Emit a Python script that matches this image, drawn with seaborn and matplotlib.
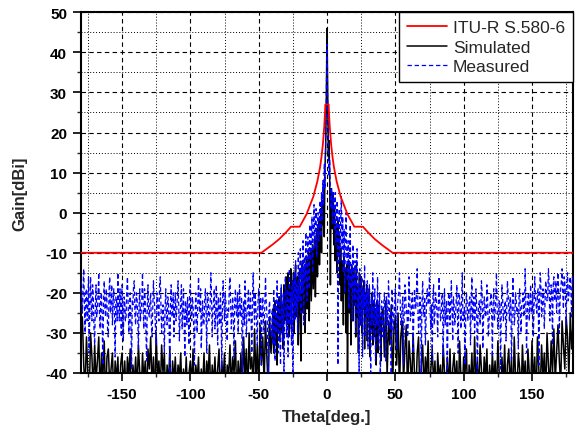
import numpy as np
import pandas as pd
import matplotlib
matplotlib.use("Agg")
import matplotlib.pyplot as plt
from matplotlib.ticker import MultipleLocator
import seaborn as sns

# ---------------- data ----------------
# ITU-R S.580-6 envelope (break points)
itu_theta = [-180, -48, -40, -35, -30, -26.3, -20, -15, -10, -7, -5, -4, -3, -2, -1.5, -1.2,
             1.2, 1.5, 2, 3, 4, 5, 7, 10, 15, 20, 26.3, 30, 35, 40, 48, 180]
itu_gain = [-10, -10, -8.0, -6.6, -4.9, -3.5, -3.5, -0.4, 4.0, 7.9, 11.5, 14.0, 17.1, 21.5, 24.6, 27.0,
            27.0, 24.6, 21.5, 17.1, 14.0, 11.5, 7.9, 4.0, -0.4, -3.5, -3.5, -4.9, -6.6, -8.0, -10, -10]

# sampling of the simulated pattern
sim_far_step, sim_near_step = 1.0, 0.5
# sampling of the measured pattern
meas_step = 0.5

# Simulated, -180..-41 deg (1 deg step)
sim_far_left = [
    -29, -26, -38, -44, -31, -40, -47, -30, -36, -45,
    -33, -42, -37, -31, -46, -35, -41, -32, -48, -36,
    -34, -43, -39, -35, -47, -37, -42, -36, -49, -38,
    -35, -44, -37, -46, -36, -41, -34, -48, -38, -43,
    -36, -45, -33, -40, -47, -35, -42, -37, -46, -34,
    -39, -31, -44, -36, -48, -30, -41, -37, -45, -33,
    -40, -35, -47, -38, -43, -34, -49, -37, -42, -36,
    -45, -38, -41, -35, -48, -39, -44, -36, -46, -40,
    -37, -43, -34, -47, -38, -42, -36, -49, -39, -44,
    -35, -46, -37, -41, -33, -47, -38, -43, -36, -45,
    -39, -34, -48, -37, -42, -35, -46, -38, -41, -33,
    -44, -36, -40, -32, -47, -37, -43, -35, -45, -31,
    -41, -34, -46, -30, -39, -36, -44, -29, -42, -33,
    -45, -28, -38, -31, -43, -27, -36, -44, -26, -35,
]
# Simulated, -40..40 deg (0.5 deg step)
sim_near = [
    -30, -24, -35, -27, -22, -33, -26, -38, -23, -29,
    -21, -32, -25, -19, -30, -23, -34, -18, -27, -22,
    -16, -28, -20, -15, -31, -19, -25, -14, -29, -17,
    -22, -15, -30, -18, -13, -26, -20, -16, -33, -19,
    -14, -28, -37, -17, -12, -25, -19, -13, -30, -16,
    -11, -24, -18, -10, -27, -14, -9, -22, -15, -8,
    -19, -12, -6, -21, -9, -4, -16, -7, -2, -13,
    -5, 1, -10, 3, -3, 7, -6, 11, 16, 28,
    46, 30, 14, 18, 8, -18, 6, 2, -4, 5,
    -8, 1, -12, -3, -6, -15, -2, -10, -5, -18,
    -9, -22, -12, -16, -28, -11, -20, -14, -30, -13,
    -42, -19, -12, -25, -15, -33, -13, -21, -27, -14,
    -23, -16, -31, -13, -26, -18, -35, -15, -22, -28,
    -16, -30, -19, -24, -17, -34, -20, -26, -18, -32,
    -21, -27, -19, -36, -23, -29, -20, -33, -25, -22,
    -31, -24, -38, -22, -28, -35, -23, -30, -26, -37,
    -25,
]
# Simulated, 41..180 deg (1 deg step)
sim_far_right = [
    -24, -36, -22, -41, -27, -33, -23, -44, -29, -26,
    -38, -25, -45, -31, -27, -42, -34, -28, -47, -32,
    -37, -44, -30, -40, -46, -35, -31, -48, -38, -33,
    -45, -36, -41, -32, -47, -39, -34, -43, -37, -49,
    -35, -42, -38, -46, -33, -40, -48, -36, -44, -34,
    -47, -39, -35, -43, -37, -49, -32, -41, -45, -36,
    -40, -34, -48, -38, -43, -35, -46, -31, -42, -37,
    -45, -33, -39, -47, -36, -41, -34, -49, -38, -44,
    -35, -42, -37, -46, -32, -40, -48, -36, -43, -33,
    -47, -38, -34, -44, -36, -49, -31, -41, -45, -35,
    -39, -46, -33, -42, -37, -48, -34, -40, -44, -32,
    -43, -36, -47, -31, -39, -45, -33, -41, -35, -46,
    -30, -38, -44, -32, -40, -29, -42, -35, -28, -37,
    -43, -27, -33, -39, -26, -31, -41, -25, -34, -28,
]

# Measured, -180..-40.5 deg (0.5 deg step)
meas_far_left = [
    -17, -21, -25, -19, -14, -23, -30, -20, -19, -27, -22, -16, -35, -24, -16, -22, -27, -18, -21, -29,
    -33, -23, -18, -26, -24, -20, -15, -25, -29, -21, -20, -28, -38, -22, -17, -24, -26, -19, -22, -30,
    -31, -20, -16, -25, -23, -18, -28, -22, -19, -26, -36, -21, -21, -27, -15, -23, -27, -19, -24, -31,
    -18, -24, -32, -21, -22, -27, -26, -19, -16, -23, -30, -25, -20, -28, -39, -22, -23, -18, -17, -26,
    -28, -20, -21, -26, -34, -23, -19, -27, -25, -21, -15, -24, -29, -19, -22, -30, -37, -23, -18, -25,
    -26, -22, -20, -28, -31, -24, -17, -21, -24, -29, -33, -20, -21, -25, -27, -18, -16, -23, -30, -26,
    -23, -27, -35, -24, -19, -25, -28, -21, -22, -29, -40, -23, -18, -26, -26, -20, -31, -24, -20, -27,
    -25, -21, -17, -23, -32, -26, -22, -18, -29, -24, -19, -27, -36, -22, -24, -28, -21, -25, -33, -20,
    -18, -24, -27, -21, -23, -29, -38, -25, -20, -26, -30, -22, -16, -23, -25, -19, -34, -27, -22, -28,
    -28, -22, -19, -25, -35, -20, -21, -27, -26, -23, -15, -21, -31, -24, -23, -19, -29, -26, -18, -24,
    -33, -21, -24, -28, -20, -25, -39, -23, -17, -22, -27, -20, -22, -29, -32, -24, -25, -19, -16, -23,
    -29, -25, -21, -27, -36, -22, -19, -24, -26, -20, -30, -23, -18, -26, -24, -21, -41, -25, -22, -28,
    -17, -22, -31, -25, -23, -19, -27, -24, -20, -28, -35, -21, -15, -23, -28, -20, -24, -27, -33, -22,
    -19, -24, -26, -21, -38, -25, -21, -27, -30, -23, -16, -22, -25, -29, -43, -24, -22, -27, -28, -31,
]
# Measured, -40..40 deg (0.5 deg step)
meas_near = [
    -24, -33, -19, -28, -37, -22, -30, -17, -26, -35,
    -21, -29, -38, -18, -25, -32, -20, -42, -27, -16,
    -23, -31, -19, -36, -22, -14, -28, -20, -33, -17,
    -44, -21, -15, -27, -12, -24, -18, -30, -10, -22,
    -16, -9, -25, -13, -20, -7, -28, -11, -17, -5,
    -14, -22, -6, -10, -19, -3, -12, -8, -1, -15,
    -4, 2, -9, -2, 1, -11, -3, 0, -7, -1,
    3, -6, 5, -2, 8, 2, 12, 6, 18, 30,
    42, 28, 15, 9, 13, 4, 1, 6, -3, 5,
    2, -4, 5, -8, 0, 3, -38, -6, 1, -12,
    -2, 4, -9, -1, -15, -4, -20, -6, 0, -11,
    -17, -7, -24, -10, -3, -19, -13, -27, -8, -16,
    -22, -12, -30, -15, -9, -25, -18, -41, -14, -21,
    -28, -16, -36, -19, -24, -13, -31, -20, -26, -17,
    -34, -22, -18, -29, -40, -21, -27, -15, -32, -24,
    -19, -37, -23, -28, -16, -33, -25, -20, -43, -26,
    -22,
]
# Measured, 40.5..180 deg (0.5 deg step)
meas_far_right = [
    -27, -31, -23, -20, -26, -37, -21, -24, -28, -17, -22, -29, -25, -42, -19, -22, -30, -26, -23, -19,
    -26, -34, -24, -21, -20, -15, -22, -28, -27, -23, -21, -38, -25, -18, -20, -25, -24, -31, -27, -16,
    -21, -27, -25, -22, -20, -35, -26, -19, -22, -24, -19, -14, -23, -30, -27, -21, -24, -40, -22, -17,
    -24, -26, -21, -33, -27, -20, -19, -23, -22, -15, -25, -29, -23, -37, -21, -18, -28, -25, -20, -22,
    -25, -31, -22, -16, -23, -27, -26, -21, -20, -36, -24, -19, -28, -24, -22, -43, -26, -20, -21, -28,
    -23, -17, -25, -32, -21, -23, -28, -26, -22, -18, -26, -35, -20, -21, -24, -29, -22, -15, -27, -25,
    -24, -38, -26, -20, -22, -27, -25, -22, -21, -33, -23, -16, -27, -24, -21, -30, -25, -19, -23, -41,
    -26, -23, -22, -28, -24, -17, -20, -34, -27, -21, -23, -26, -25, -18, -21, -31, -28, -24, -22, -20,
    -25, -36, -23, -19, -27, -25, -21, -15, -24, -29, -26, -22, -22, -39, -25, -18, -21, -27, -26, -23,
    -22, -32, -24, -17, -20, -24, -27, -21, -23, -37, -25, -16, -21, -28, -26, -20, -22, -25, -24, -34,
    -21, -19, -25, -30, -23, -22, -20, -26, -24, -14, -22, -35, -26, -21, -20, -27, -23, -18, -25, -24,
    -20, -31, -23, -16, -21, -23, -25, -20, -19, -38, -22, -15, -18, -26, -24, -19, -20, -29, -23, -17,
    -19, -22, -21, -14, -17, -27, -23, -18, -20, -33, -18, -16, -22, -21, -17, -25, -21, -15, -19, -30,
    -22, -19, -17, -14, -20, -24, -16, -17, -21, -28, -18, -15, -22, -21, -17, -16, -20, -26, -16, -18,
]

series_labels = ["ITU-R S.580-6", "Simulated", "Measured"]
x_label = "Theta[deg.]"
y_label = "Gain[dBi]"

# ---------------- build tables ----------------
sim_theta = np.concatenate([
    np.arange(-180, -40.5, sim_far_step),
    np.arange(-40, 40.25, sim_near_step),
    np.arange(41, 180.5, sim_far_step),
])
meas_theta = np.arange(-180, 180.25, meas_step)
df_sim = pd.DataFrame({"theta": sim_theta,
                       "gain": np.array(sim_far_left + sim_near + sim_far_right, float)})
df_meas = pd.DataFrame({"theta": meas_theta,
                        "gain": np.array(meas_far_left + meas_near + meas_far_right, float)})
df_itu = pd.DataFrame({"theta": itu_theta, "gain": itu_gain})

# ---------------- style ----------------
sns.set_style("ticks")
plt.rcParams["font.family"] = ["Liberation Sans", "DejaVu Sans"]
plt.rcParams["axes.unicode_minus"] = False

fig = plt.figure(figsize=(5.82, 4.31), dpi=100)
ax = fig.add_axes([81 / 582, 57 / 431, 492 / 582, 360.7 / 431])

sns.lineplot(data=df_sim, x="theta", y="gain", ax=ax, color="black", lw=1.1,
             estimator=None, sort=False, label=series_labels[1], zorder=3)
sns.lineplot(data=df_meas, x="theta", y="gain", ax=ax, color="#0000ff", lw=0.9,
             estimator=None, sort=False, label=series_labels[2], zorder=4,
             linestyle=(0, (3.5, 2.2)))
sns.lineplot(data=df_itu, x="theta", y="gain", ax=ax, color="#ff0000", lw=1.3,
             estimator=None, sort=False, label=series_labels[0], zorder=5)

ax.set_xlim(-180, 180)
ax.set_ylim(-40, 50)
ax.xaxis.set_major_locator(MultipleLocator(50))
ax.xaxis.set_minor_locator(MultipleLocator(25))
ax.yaxis.set_major_locator(MultipleLocator(10))
ax.yaxis.set_minor_locator(MultipleLocator(5))

ax.grid(which="major", color="black", lw=0.8, linestyle=(0, (4, 3)), zorder=0)
ax.grid(which="minor", color="black", lw=0.7, linestyle=(0, (1, 2)), zorder=0)
ax.set_axisbelow(True)

for s in ax.spines.values():
    s.set_linewidth(1.5)
    s.set_color("black")

ax.tick_params(which="major", direction="out", length=6, width=1.2, labelsize=11, pad=4,
               colors="black")
ax.tick_params(which="minor", direction="out", length=3, width=1.0)
for lab in ax.get_xticklabels() + ax.get_yticklabels():
    lab.set_fontweight("bold")

ax.set_xlabel(x_label, fontsize=12, fontweight="bold")
ax.set_ylabel(y_label, fontsize=12, fontweight="bold")
ax.yaxis.set_label_coords(-0.108, 0.5)
ax.xaxis.set_label_coords(0.5, -0.1)

handles, labels = ax.get_legend_handles_labels()
order = [labels.index(l) for l in series_labels]
leg = ax.legend([handles[i] for i in order], [labels[i] for i in order],
                loc="upper right", borderaxespad=0, fontsize=12.5, frameon=True,
                fancybox=False, edgecolor="black", framealpha=1, borderpad=0.45,
                labelspacing=0.25, handlelength=2.3, handletextpad=0.35)
leg.get_frame().set_linewidth(1.0)
leg.set_zorder(10)

fig.savefig("out.png", dpi=100)
